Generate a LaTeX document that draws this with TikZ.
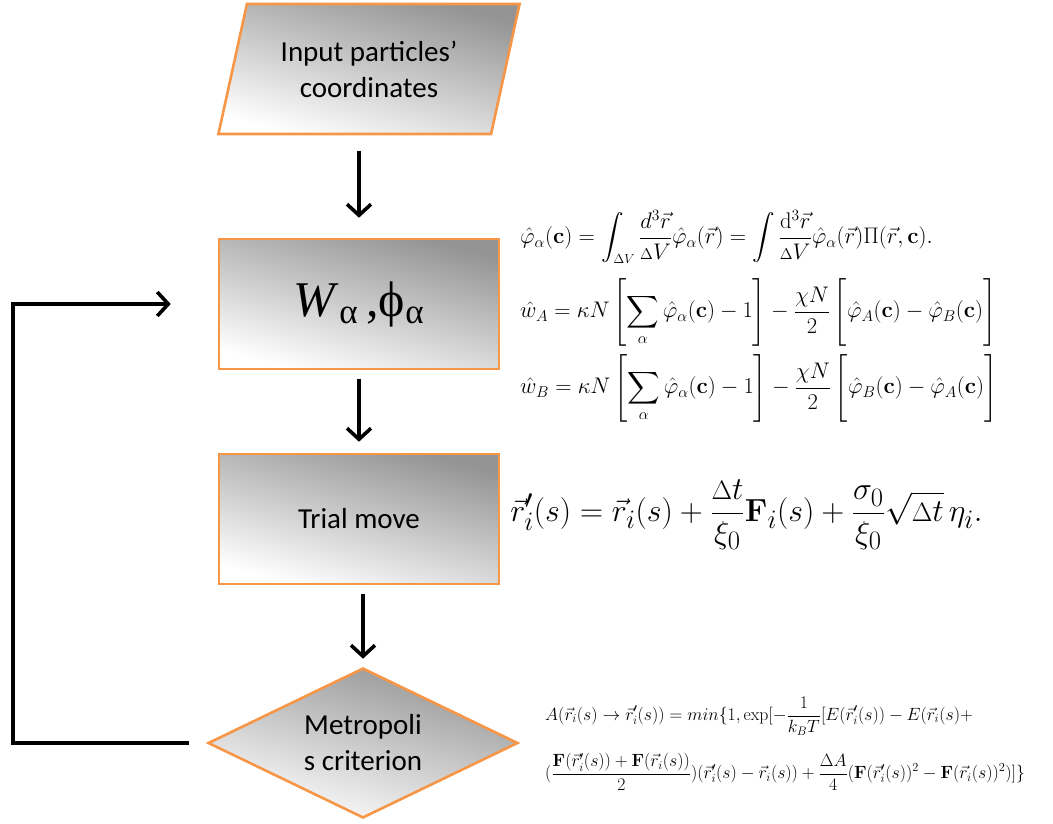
\documentclass[tikz,border=0pt]{standalone}
\usepackage{exscale}
\usepackage[no-math]{fontspec}
\setmainfont{Carlito}
\newfontfamily\timesf{Liberation Serif}
\usetikzlibrary{shapes.geometric,arrows.meta}
\definecolor{borange}{HTML}{F79646}
\tikzset{
  gradfill/.style={top color=black!42, bottom color=white, shading angle=-15},
  flowbox/.style={draw=borange, line width=2.6pt, gradfill, inner sep=0pt,
    font=\fontsize{29}{36}\selectfont, align=center},
  arr/.style={line width=3.6pt, -{Straight Barb[length=11pt,width=24pt,line width=3.6pt]}},
  eqA/.style={anchor=west, inner sep=0pt, font=\fontsize{20.74}{25}\selectfont, scale=1.088, transform shape},
  eqB/.style={anchor=west, inner sep=0pt, font=\fontsize{24.88}{30}\selectfont, scale=1.283, transform shape},
  eqC/.style={anchor=west, inner sep=0pt, font=\fontsize{17.28}{21}\selectfont, scale=1.026, transform shape},
}
\begin{document}
\begin{tikzpicture}[x=1pt,y=-1pt]
\useasboundingbox (0,0) rectangle (1053,824);
\node[flowbox, trapezium, trapezium left angle=70, trapezium right angle=110,
  trapezium stretches=true, minimum width=302pt, minimum height=130pt] (para) at (369,69)
  {Input particles’\\coordinates};
\node[flowbox, rectangle, minimum width=280pt, minimum height=130pt] (W) at (359,304)
  {\timesf\fontsize{50}{56}\selectfont\textit{W}\textsubscript{α}\,,ϕ\textsubscript{α}};
\node[flowbox, rectangle, minimum width=280pt, minimum height=130pt] (T) at (359,519)
  {Trial move};
\node[flowbox, diamond, aspect=2.07, minimum width=310pt, minimum height=150pt] (D) at (363,743)
  {Metropoli\\s criterion};
\coordinate (loop) at (13,743);

\draw[arr] ([yshift=-16pt]W.north |- para.south) -- ([yshift=20pt]W.north);
\draw[arr] ([yshift=-9pt]W.south) -- ([yshift=11pt]T.north);
\draw[arr] ([yshift=-9pt]T.south -| D.north) -- ([yshift=8pt]D.north);
\draw[arr] ([xshift=-18pt]D.west) -- (loop) |- ([xshift=-47pt]W.west);

\node[eqA] (e1) at (520,237) {$\displaystyle \hat{\varphi}_{\alpha}(\mathbf{c})=\int_{\scriptscriptstyle\Delta V}\frac{d^{3}\vec{r}}{{\scriptstyle\Delta}V}\hat{\varphi}_{\alpha}(\vec{r})=\int\frac{\mathrm{d}^{3}\vec{r}}{{\scriptstyle\Delta}V}\hat{\varphi}_{\alpha}(\vec{r})\Pi(\vec{r},\mathbf{c}).$};
\node[eqA] (e2) at (520,312) {$\displaystyle \hat{w}_{A}=\kappa N\left[\sum_{\alpha}\hat{\varphi}_{\alpha}(\mathbf{c})-1\right]-\frac{\chi N}{2}\left[\vphantom{\sum_{\alpha}}\hat{\varphi}_{A}(\mathbf{c})-\hat{\varphi}_{B}(\mathbf{c})\right]$};
\node[eqA] (e3) at (520,388) {$\displaystyle \hat{w}_{B}=\kappa N\left[\sum_{\alpha}\hat{\varphi}_{\alpha}(\mathbf{c})-1\right]-\frac{\chi N}{2}\left[\vphantom{\sum_{\alpha}}\hat{\varphi}_{B}(\mathbf{c})-\hat{\varphi}_{A}(\mathbf{c})\right]$};
\node[eqB] (e4) at (510,515) {$\displaystyle \vec{r}_{i}'(s)=\vec{r}_{i}(s)+\frac{{\scriptstyle\Delta}t}{\xi_{0}}\mathbf{F}_{i}(s)+\frac{\sigma_{0}}{\xi_{0}}\sqrt{{\scriptstyle\Delta}t}\,\eta_{i}.$};
\node[eqC] (e5) at (545,716) {$\displaystyle A(\vec{r}_{i}(s)\rightarrow\vec{r}_{i}'(s))=min\{1,\exp[-\frac{1}{k_{B}T}[E(\vec{r}_{i}'(s))-E(\vec{r}_{i}(s)+$};
\node[eqC] (e6) at (545,772) {$\displaystyle (\frac{\mathbf{F}(\vec{r}_{i}'(s))+\mathbf{F}(\vec{r}_{i}(s))}{2})(\vec{r}_{i}'(s)-\vec{r}_{i}(s))+\frac{\Delta A}{4}(\mathbf{F}(\vec{r}_{i}'(s))^{2}-\mathbf{F}(\vec{r}_{i}(s))^{2})]\}$};
\end{tikzpicture}
\end{document}
